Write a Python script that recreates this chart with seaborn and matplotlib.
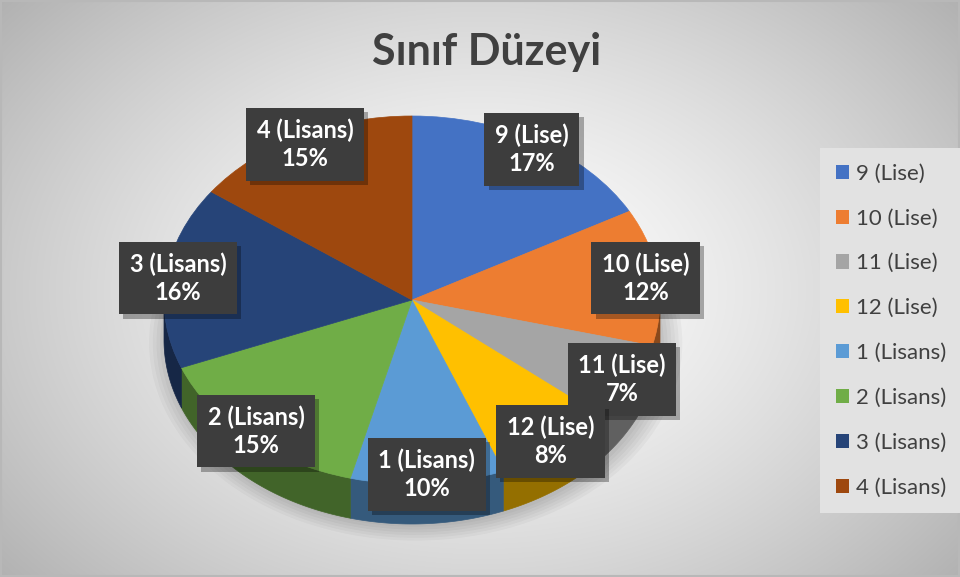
import numpy as np
import matplotlib
matplotlib.use("Agg")
import matplotlib.pyplot as plt
import seaborn as sns
from matplotlib.patches import Patch, Polygon, Ellipse, Rectangle
import matplotlib.patheffects as pe

# ---- data ----
categories = ["9 (Lise)", "10 (Lise)", "11 (Lise)", "12 (Lise)",
              "1 (Lisans)", "2 (Lisans)", "3 (Lisans)", "4 (Lisans)"]
percentages = [17, 12, 7, 8, 10, 15, 16, 15]
colors = ["#4472C4", "#ED7D31", "#A5A5A5", "#FFC000",
          "#5B9BD5", "#70AD47", "#264478", "#9E480E"]
title = "Sınıf Düzeyi"

sns.set_theme(style="white")
plt.rcParams["font.family"] = ["Lato", "DejaVu Sans"]
palette = sns.color_palette(colors)

W, H = 960, 577
fig = plt.figure(figsize=(W / 100, H / 100), dpi=100)

# ---- background radial gradient ----
bg = fig.add_axes([0, 0, 1, 1], zorder=-10)
yy, xx = np.mgrid[0:H, 0:W]
r = np.sqrt(((xx - 480) / 560.0) ** 2 + ((yy - 290) / 400.0) ** 2)
g = np.clip(1.0 - 0.26 * r ** 1.4, 0, 1)
bg.imshow(np.dstack([g, g, g]), aspect="auto", extent=[0, W, H, 0])
bg.add_patch(Rectangle((1, 1), W - 2, H - 2, fill=False, ec="#b8b8b8", lw=1.5))
bg.set_xlim(0, W)
bg.set_ylim(H, 0)
bg.axis("off")

# ---- pie axes: circle of radius 1 mapped onto the tilted ellipse ----
cx, cy, rx, ry = 412, 300, 248, 184
ax = fig.add_axes([(cx - rx) / W, (H - cy - ry) / H, 2 * rx / W, 2 * ry / H])
ax.axis("off")

depth = 40 / ry

# soft shadow under the pie
for k in range(6):
    s = 2.0 + 0.03 * k
    ax.add_patch(Ellipse((0.015, -depth - 0.015), s, s,
                         fc="#000000", ec="none", alpha=0.03, zorder=0, clip_on=False))

# side extrusion (front half)
vals = np.array(percentages, dtype=float)
cum = np.concatenate([[0], np.cumsum(vals) / vals.sum()])
for i in range(len(vals)):
    lo = 90 - 360 * cum[i + 1]
    hi = 90 - 360 * cum[i]
    a, b = max(lo, -180), min(hi, 0)
    if b <= a:
        continue
    t = np.radians(np.linspace(a, b, 60))
    top = np.column_stack([np.cos(t), np.sin(t)])
    bot = np.column_stack([np.cos(t), np.sin(t) - depth])[::-1]
    c = np.array(palette[i]) * 0.58
    ax.add_patch(Polygon(np.vstack([top, bot]), closed=True, fc=c, ec=c, lw=0.5,
                         zorder=1, clip_on=False))

wedges, _ = ax.pie(vals, colors=palette, startangle=90, counterclock=False,
                   radius=1, center=(0, 0), frame=False,
                   wedgeprops=dict(linewidth=0.5))
for i, w in enumerate(wedges):
    w.set_edgecolor(palette[i])
    w.set_zorder(2)
    w.set_clip_on(False)
ax.set_aspect("auto")
ax.set_xlim(-1, 1)
ax.set_ylim(-1, 1)

# ---- labels in dark boxes ----
for i, w in enumerate(wedges):
    mid = np.radians((w.theta1 + w.theta2) / 2)
    rr = 0.95
    x, y = rr * np.cos(mid), rr * np.sin(mid)
    txt = f"{categories[i]}\n{percentages[i]}%"
    t = ax.text(x, y, txt, ha="center", va="center", fontsize=17, fontweight="bold",
                color="white", linespacing=1.25, zorder=6,
                bbox=dict(boxstyle="square,pad=0.45", fc="#3d3d3d", ec="none", lw=0))
    t.get_bbox_patch().set_path_effects(
        [pe.SimplePatchShadow(offset=(3, -3), shadow_rgbFace="black", alpha=0.3),
         pe.Normal()])

# ---- title ----
fig.text(487 / W, 1 - 52 / H, title, ha="center", va="center", fontsize=31,
         fontweight="bold", color="#404040")

# ---- legend ----
handles = [Patch(facecolor=palette[i], edgecolor="none") for i in range(len(categories))]
leg = fig.legend(handles, categories, loc="upper left",
                 bbox_to_anchor=(820 / W, 1 - 148 / H), borderaxespad=0,
                 fontsize=16, labelspacing=1.12, handlelength=0.6, handleheight=0.6,
                 handletextpad=0.3, borderpad=0.7, frameon=True, fancybox=False,
                 labelcolor="#404040")
leg.get_frame().set_facecolor("#e2e2e2")
leg.get_frame().set_edgecolor("none")
leg.get_frame().set_alpha(1)

fig.savefig("out.png", dpi=100)
